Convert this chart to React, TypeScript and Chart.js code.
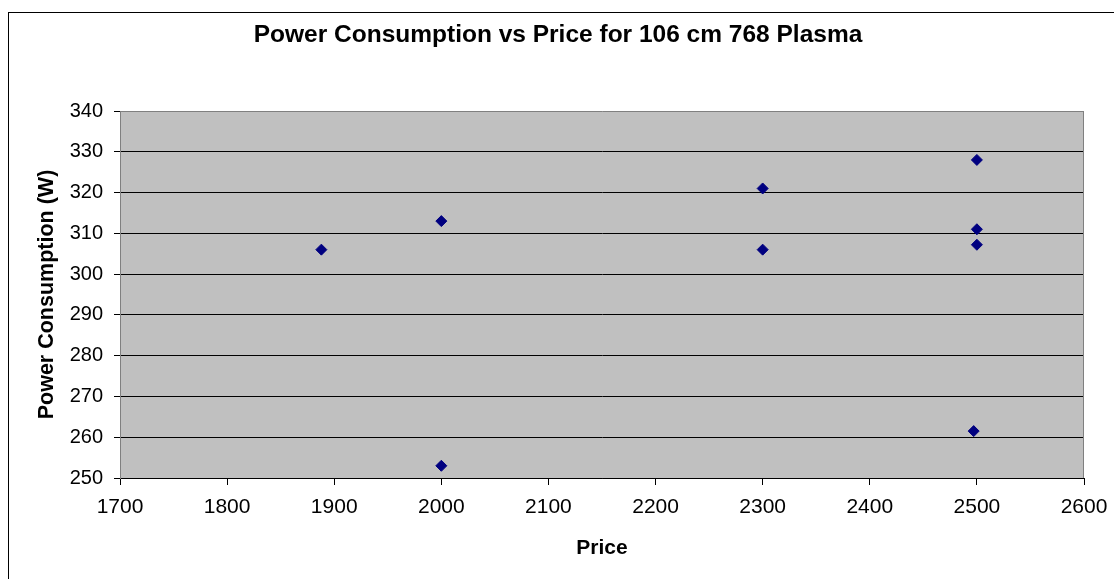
import React, { useEffect, useRef } from "react";
import { Chart, registerables } from "chart.js";

Chart.register(...registerables);

const chartTitle = "Power Consumption vs Price for 106 cm 768 Plasma";
const xAxisTitle = "Price";
const yAxisTitle = "Power Consumption (W)";

const prices = [1888, 2000, 2000, 2300, 2300, 2500, 2500, 2500, 2497];
const powers = [306, 313, 253, 321, 306, 328, 311, 307.2, 261.5];

const xMin = 1700;
const xMax = 2600;
const xStep = 100;
const yMin = 250;
const yMax = 340;
const yStep = 10;

const FONT = "'Liberation Sans', Arial, sans-serif";

const plotDecor = {
  id: "plotDecor",
  beforeDraw(chart: any) {
    const { ctx, chartArea } = chart;
    ctx.save();
    ctx.fillStyle = "#ffffff";
    ctx.fillRect(0, 0, chart.width, chart.height);
    ctx.strokeStyle = "#000000";
    ctx.lineWidth = 1;
    ctx.strokeRect(8.5, 12.5, 3000, 3000);
    ctx.fillStyle = "#C0C0C0";
    ctx.fillRect(
      chartArea.left,
      chartArea.top,
      chartArea.right - chartArea.left,
      chartArea.bottom - chartArea.top
    );
    ctx.restore();
  },
  beforeDatasetsDraw(chart: any) {
    const { ctx, chartArea } = chart;
    ctx.save();
    ctx.strokeStyle = "#808080";
    ctx.lineWidth = 1;
    ctx.beginPath();
    const r = Math.round(chartArea.right) - 0.5;
    ctx.moveTo(r, chartArea.top);
    ctx.lineTo(r, chartArea.bottom);
    ctx.stroke();
    ctx.restore();
  },
};

export default function App() {
  const canvasRef = useRef<HTMLCanvasElement | null>(null);

  useEffect(() => {
    const canvas = canvasRef.current;
    if (!canvas) return;
    const data = prices.map((p, i) => ({ x: p, y: powers[i] }));
    const chart = new Chart(canvas, {
      type: "scatter",
      data: {
        datasets: [
          {
            label: "Power",
            data,
            pointStyle: "rectRot",
            pointRadius: 5.5,
            pointHoverRadius: 5.5,
            backgroundColor: "#000080",
            borderColor: "#000080",
            borderWidth: 1,
          },
        ],
      },
      options: {
        responsive: false,
        animation: false,
        devicePixelRatio: 1,
        events: [],
        layout: { padding: { left: 32, right: 30, top: 0, bottom: 0 } },
        plugins: {
          legend: { display: false },
          tooltip: { enabled: false },
          title: {
            display: true,
            text: chartTitle,
            color: "#000",
            font: { family: FONT, size: 24.5, weight: "bold" },
            padding: { top: 21, bottom: 60.6 },
          },
        },
        scales: {
          x: {
            type: "linear",
            min: xMin,
            max: xMax,
            afterFit(scale: any) {
              scale.height = 101;
              scale.paddingRight = 0;
              scale.paddingLeft = 0;
            },
            ticks: {
              stepSize: xStep,
              color: "#000",
              font: { family: FONT, size: 21 },
              padding: 10,
              maxRotation: 0,
              autoSkip: false,
              callback: (v: any) => String(v),
            },
            grid: {
              drawOnChartArea: false,
              drawTicks: true,
              tickLength: 7,
              tickColor: "#000",
            },
            border: { color: "#000", width: 1 },
            title: {
              display: true,
              text: xAxisTitle,
              color: "#000",
              font: { family: FONT, size: 21, weight: "bold" },
              padding: { top: 0, bottom: 18 },
            },
          },
          y: {
            type: "linear",
            min: yMin,
            max: yMax,
            afterFit(scale: any) {
              scale.width = 88;
            },
            ticks: {
              stepSize: yStep,
              color: "#000",
              font: { family: FONT, size: 20 },
              padding: 11,
              callback: (v: any) => String(v),
            },
            grid: {
              color: (c: any) => (c.tick && c.tick.value === yMax ? "#808080" : "#000"),
              drawTicks: true,
              tickLength: 6,
              tickColor: "#000",
            },
            border: { color: "#808080", width: 1 },
            title: {
              display: true,
              text: yAxisTitle,
              color: "#000",
              font: { family: FONT, size: 21.5, weight: "bold" },
              padding: { top: 2, bottom: 0 },
            },
          },
        },
      },
      plugins: [plotDecor],
    });
    return () => chart.destroy();
  }, []);

  return (
    <div style={{ position: "absolute", left: 0, top: 0, width: 1114, height: 579 }}>
      <canvas ref={canvasRef} width={1114} height={579} style={{ display: "block" }} />
    </div>
  );
}
